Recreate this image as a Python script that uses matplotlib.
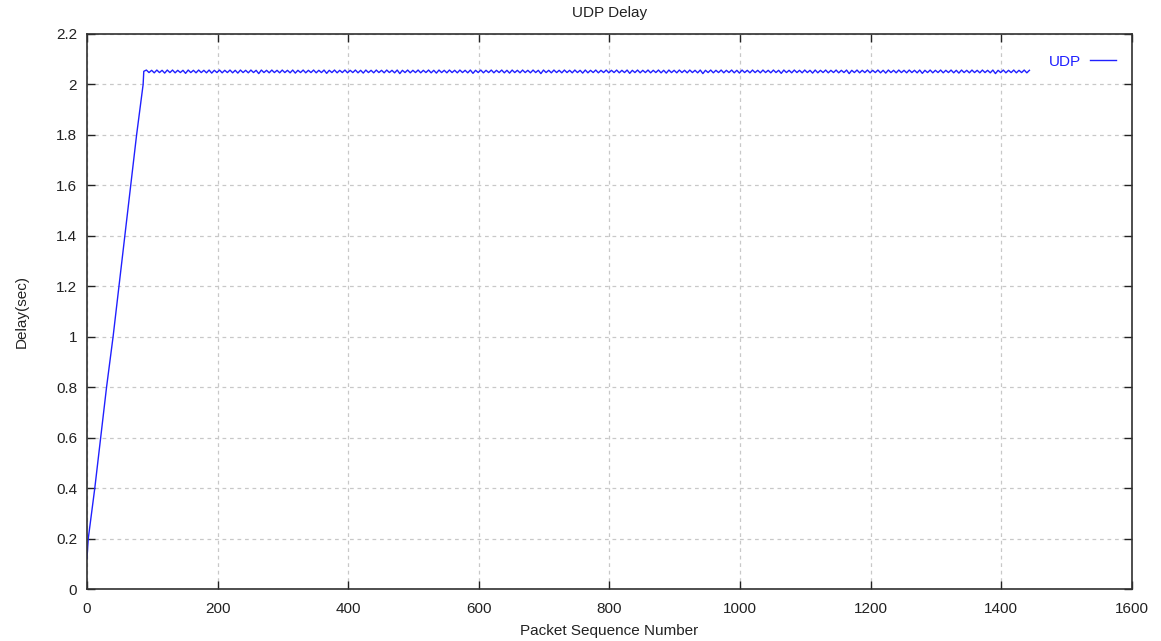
import numpy as np
import matplotlib
matplotlib.use("Agg")
import matplotlib.pyplot as plt

plt.rcParams['font.family'] = ['Liberation Sans', 'DejaVu Sans']

# ramp at start: packet sequence number -> delay (sec)
ramp_seq = [0, 2, 12, 21, 30, 40, 49, 58, 67, 76, 86, 87]
ramp_delay = [0.12, 0.20, 0.40, 0.60, 0.80, 1.00, 1.20, 1.40, 1.60, 1.80, 2.00, 2.05]

# steady part, one value every 4 packets from packet 87 (ms above 2.000 s)
plateau_start = 87
plateau_step = 4
plateau_ms = [
    52, 57, 47, 56, 46, 57, 47, 56, 45, 57, 47, 57, 46, 56, 47, 56, 44, 57, 47, 56,
    46, 57, 47, 56, 46, 57, 45, 56, 47, 57, 46, 56, 47, 57, 46, 56, 45, 57, 47, 56,
    46, 57, 47, 56, 43, 57, 47, 56, 46, 57, 47, 56, 46, 57, 47, 56, 46, 57, 45, 56,
    47, 57, 46, 56, 47, 57, 46, 56, 47, 57, 44, 56, 47, 57, 46, 56, 47, 57, 46, 56,
    47, 57, 46, 56, 45, 57, 47, 56, 46, 57, 47, 56, 46, 57, 47, 56, 46, 57, 43, 56,
    47, 57, 46, 56, 47, 57, 46, 56, 47, 57, 46, 56, 45, 57, 47, 56, 46, 57, 47, 56,
    46, 57, 47, 56, 46, 57, 44, 56, 47, 57, 46, 56, 47, 57, 46, 56, 47, 57, 46, 56,
    45, 57, 47, 56, 46, 57, 47, 56, 46, 57, 47, 56, 43, 57, 47, 56, 46, 57, 47, 56,
    46, 57, 47, 56, 46, 57, 47, 56, 45, 57, 46, 56, 47, 57, 46, 56, 47, 57, 46, 56,
    47, 57, 46, 56, 47, 57, 44, 56, 47, 57, 46, 56, 47, 57, 46, 56, 47, 57, 46, 56,
    45, 57, 47, 56, 46, 57, 47, 56, 46, 57, 47, 56, 46, 57, 43, 56, 47, 57, 46, 56,
    47, 57, 46, 56, 47, 57, 46, 56, 45, 57, 47, 56, 46, 57, 47, 56, 46, 57, 47, 56,
    46, 57, 47, 56, 44, 57, 47, 56, 46, 57, 47, 56, 46, 57, 47, 56, 45, 57, 46, 56,
    47, 57, 46, 56, 47, 57, 46, 56, 47, 57, 43, 56, 47, 57, 46, 56, 47, 57, 46, 56,
    47, 57, 46, 56, 45, 57, 47, 56, 46, 57, 47, 56, 46, 57, 47, 56, 46, 57, 44, 56,
    47, 57, 46, 56, 47, 57, 46, 56, 47, 57, 46, 56, 45, 57, 47, 56, 46, 57, 47, 56,
    46, 57, 47, 56, 46, 57, 43, 56, 47, 57, 46, 56, 47, 57, 46, 56, 47, 57, 46, 56,
]

xticks = [0, 200, 400, 600, 800, 1000, 1200, 1400, 1600]
yticks = [0, 0.2, 0.4, 0.6, 0.8, 1.0, 1.2, 1.4, 1.6, 1.8, 2.0, 2.2]
ytick_labels = ['0', '0.2', '0.4', '0.6', '0.8', '1', '1.2', '1.4', '1.6', '1.8', '2', '2.2']

plateau_seq = plateau_start + plateau_step * np.arange(len(plateau_ms))
seq = np.concatenate([ramp_seq, plateau_seq])
delay = np.concatenate([ramp_delay, 2.0 + np.array(plateau_ms) / 1000.0])

fig = plt.figure(figsize=(11.61, 6.41), dpi=100)
ax = fig.add_axes([0.0749, 0.0811, 0.9001, 0.8659])

ax.plot(seq, delay, color='#2020ff', lw=1.0, label='UDP')

ax.set_xlim(0, 1600)
ax.set_ylim(0, 2.2)
ax.set_xticks(xticks)
ax.set_yticks(yticks)
ax.set_yticklabels(ytick_labels)
ax.tick_params(direction='in', top=True, right=True, length=6, width=1,
               labelsize=11, colors='#222222')
ax.tick_params(axis='x', pad=9)
ax.tick_params(axis='y', pad=7)
ax.grid(True, color='#c8c8c8', linestyle=(0, (3, 3)), lw=0.9)
for s in ax.spines.values():
    s.set_color('#303030')
    s.set_linewidth(1.2)

ax.set_title('UDP Delay', fontsize=11, pad=12, color='#222222')
ax.set_xlabel('Packet Sequence Number', fontsize=11, labelpad=6, color='#222222')
ax.set_ylabel('Delay(sec)', fontsize=11, labelpad=20, color='#222222')

leg = ax.legend(loc='upper right', frameon=False, markerfirst=False,
                handlelength=1.7, handletextpad=0.6, fontsize=11,
                borderaxespad=0.6, bbox_to_anchor=(0.999, 0.99))
for t in leg.get_texts():
    t.set_color('#2020ff')

fig.savefig('out.png', dpi=100)
